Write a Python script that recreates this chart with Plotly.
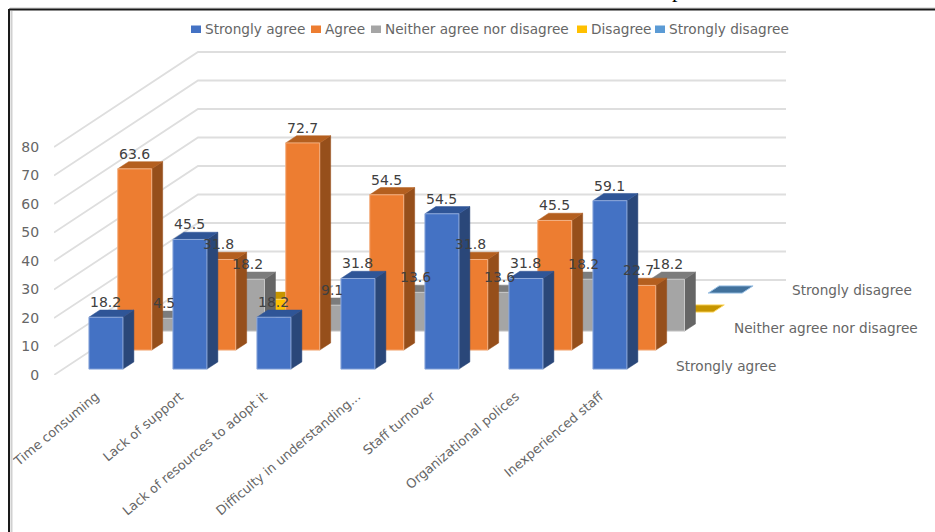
import plotly.graph_objects as go

# Survey results: share of respondents (%) per barrier and response
categories = ["Time consuming", "Lack of support", "Lack of resources to adopt it",
              "Difficulty in understanding...", "Staff turnover",
              "Organizational polices", "Inexperienced staff"]
series_names = ["Strongly agree", "Agree", "Neither agree nor disagree",
                "Disagree", "Strongly disagree"]
strongly_agree = [18.2, 45.5, 18.2, 31.8, 54.5, 31.8, 59.1]
agree = [63.6, 31.8, 72.7, 54.5, 31.8, 45.5, 22.7]
neither = [4.5, 18.2, 9.1, 13.6, 13.6, 18.2, 18.2]
disagree = [0, 4.5, 0, 0, 0, 0, 0]
strongly_disagree = [0, 0, 0, 0, 0, 0, 0]
series_values = [strongly_agree, agree, neither, disagree, strongly_disagree]
value_ticks = [0, 10, 20, 30, 40, 50, 60, 70, 80]
depth_labels = {0: "Strongly agree", 2: "Neither agree nor disagree", 4: "Strongly disagree"}

# Colours per series: front, top and side faces, then the light front outline
front = ["#4472C4", "#ED7D31", "#A5A5A5", "#FFC000", "#5B9BD5"]
top = ["#2F5597", "#B45F1F", "#7C7C7C", "#C69500", "#41719C"]
side = ["#2A4779", "#964F1B", "#666666", "#A67C00", "#34618A"]
edge = ["#8FAADC", "#F4B183", "#C9C9C9", "#FFD966", "#9DC3E6"]
TEXT = "#666666"
VALUE_TEXT = "#404040"
GRID = "#DEDEDE"
FONT = "DejaVu Sans"

# Oblique floor: one depth row moves the drawing right (in category units)
# and up (in value units)
PAGE_W, PAGE_H = 935, 532
M_LEFT, M_BOTTOM = 54, 157
PX_PER_CATEGORY = 84.0
PX_PER_VALUE = 2.85
ROW_DX = 28.8 / PX_PER_CATEGORY
ROW_DY = 19.0 / PX_PER_VALUE
N_ROWS = 5
BAR_C0, BAR_C1 = 26 / 84.0, 60 / 84.0
BAR_R0, BAR_R1 = 0.31, 0.69


def project(c, r, v):
    return c + r * ROW_DX, v + r * ROW_DY


def polygon(points):
    xs, ys = zip(*[project(*p) for p in points + points[:1]])
    return list(xs), list(ys)


def page_x(px):
    return (px - M_LEFT) / (PAGE_W - M_LEFT)


def page_y(px):
    return (PAGE_H - M_BOTTOM - px) / (PAGE_H - M_BOTTOM)


fig = go.Figure()

# Side wall and back wall gridlines
for v in value_ticks:
    xs, ys = zip(project(0, 0, v), project(0, N_ROWS, v), project(len(categories), N_ROWS, v))
    fig.add_trace(go.Scatter(x=list(xs), y=list(ys), mode="lines", hoverinfo="skip",
                             line=dict(color=GRID, width=1.8), showlegend=False))


def add_face(points, color, line_color=None):
    xs, ys = polygon(points)
    fig.add_trace(go.Scatter(x=xs, y=ys, mode="lines", fill="toself", fillcolor=color,
                             line=dict(color=line_color or color, width=1 if line_color else 0.5),
                             hoverinfo="skip", showlegend=False))


# Bars are painted back row first, left to right, so nearer bars cover farther ones
labels = []
for r in range(N_ROWS - 1, -1, -1):
    r0, r1 = r + BAR_R0, r + BAR_R1
    for i, v in enumerate(series_values[r]):
        c0, c1 = i + BAR_C0, i + BAR_C1
        if v > 0:
            add_face([(c1, r0, 0), (c1, r1, 0), (c1, r1, v), (c1, r0, v)], side[r])
        add_face([(c0, r0, v), (c1, r0, v), (c1, r1, v), (c0, r1, v)], top[r],
                 edge[r] if v == 0 else None)
        if v > 0:
            add_face([(c0, r0, 0), (c1, r0, 0), (c1, r0, v), (c0, r0, v)], front[r], edge[r])
            labels.append((i, r, v))

annotations = []

# Value labels above each bar; the zero entries and the small Disagree bar stay unlabelled
for i, r, v in labels:
    if series_names[r] == "Disagree":
        continue
    x, y = project(i + (BAR_C0 + BAR_C1) / 2, r + BAR_R0, v)
    annotations.append(dict(x=x, y=y, xref="x", yref="y", text=f"{v:.1f}", showarrow=False,
                            yshift=15, font=dict(family=FONT, size=14, color=VALUE_TEXT)))

# Depth axis labels at the right of the floor
for r, name in depth_labels.items():
    x, y = project(len(categories), r + 0.5, 0)
    annotations.append(dict(x=x, y=y, xref="x", yref="y", text=name, showarrow=False,
                            xanchor="left", xshift=18,
                            font=dict(family=FONT, size=13.65, color=TEXT)))

# Legend row along the top
legend_swatch_px = [191, 311, 371, 577, 655]
shapes = []
for name, color, px in zip(series_names, front, legend_swatch_px):
    shapes.append(dict(type="rect", xref="paper", yref="paper", x0=page_x(px), x1=page_x(px + 10),
                       y0=page_y(25.5), y1=page_y(33), fillcolor=color, line=dict(width=0)))
    annotations.append(dict(x=page_x(px + 12), y=page_y(29), xref="paper", yref="paper",
                            text=name, showarrow=False, xanchor="left", yanchor="middle",
                            font=dict(family=FONT, size=13.65, color=TEXT)))

# Document text cut off by the top of the page
annotations.append(dict(x=page_x(685), y=page_y(-2), xref="paper", yref="paper", text="p",
                        showarrow=False, yanchor="bottom", yshift=-6,
                        font=dict(family="Liberation Serif", size=22, color="#000000")))

# Surrounding frame: top and left rules only, with a soft inner edge
for x0, y0, x1, y1, color, width in [
    (11.5, 11, 11.5, PAGE_H, "#D0D0D0", 2),
    (10, 8, PAGE_W, 8, "#C8C8C8", 1),
    (9, 9.5, PAGE_W, 9.5, "#1A1A1A", 2),
    (9, 9, 9, PAGE_H, "#1A1A1A", 2),
]:
    shapes.append(dict(type="line", xref="paper", yref="paper", x0=page_x(x0), x1=page_x(x1),
                       y0=page_y(y0), y1=page_y(y1), line=dict(color=color, width=width)))

# The long truncated label sits a little further right than its neighbours
tick_positions = [i + (0.61 if "..." in name else 0.50) for i, name in enumerate(categories)]

fig.update_layout(
    width=PAGE_W, height=PAGE_H, autosize=False,
    margin=dict(l=M_LEFT, r=0, t=0, b=M_BOTTOM, pad=0),
    paper_bgcolor="#FFFFFF", plot_bgcolor="#FFFFFF",
    showlegend=False, annotations=annotations, shapes=shapes,
    xaxis=dict(range=[0, (PAGE_W - M_LEFT) / PX_PER_CATEGORY], showgrid=False, zeroline=False,
               showline=False, tickmode="array",
               tickvals=tick_positions, ticktext=categories,
               tickangle=-40, ticks="outside", ticklen=8, tickcolor="rgba(0,0,0,0)",
               tickfont=dict(family=FONT, size=12.9, color=TEXT)),
    yaxis=dict(range=[0, (PAGE_H - M_BOTTOM) / PX_PER_VALUE], showgrid=False, zeroline=False,
               showline=False, tickmode="array", tickvals=value_ticks,
               ticks="outside", ticklen=11, tickcolor="rgba(0,0,0,0)",
               tickfont=dict(family=FONT, size=14, color=TEXT)),
)

fig.write_html("out.html", config=dict(displayModeBar=False))
